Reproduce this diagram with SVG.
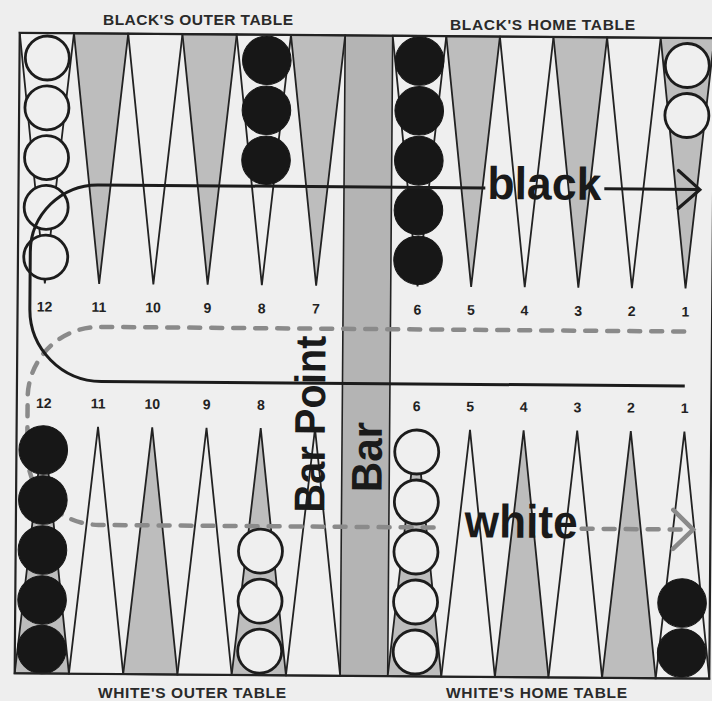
<svg xmlns="http://www.w3.org/2000/svg" width="712" height="701" viewBox="0 0 712 701">
<style>
.tw{fill:#efefef;stroke:#222;stroke-width:1.8;stroke-linejoin:miter}
.tg{fill:#bdbdbd;stroke:#222;stroke-width:1.8}
.cw{fill:#efefef;stroke:#1c1c1c;stroke-width:2.8}
.cb{fill:#171717;stroke:#171717;stroke-width:1}
.num{font-family:"Liberation Sans",Arial,sans-serif;font-weight:bold;font-size:14px;fill:#222;text-anchor:middle}
.big{font-family:"Liberation Sans",Arial,sans-serif;font-weight:bold;fill:#1a1a1a}
.cap{font-family:"Liberation Sans",Arial,sans-serif;font-weight:bold;font-size:15.5px;fill:#2a2a2a}
.solid{fill:none;stroke:#1c1c1c;stroke-width:3;stroke-linejoin:round}
.dash{fill:none;stroke:#8a8a8a;stroke-width:4.5;stroke-dasharray:11 11;stroke-linecap:round}
.ahb{fill:none;stroke:#1c1c1c;stroke-width:3.2;stroke-linecap:round;stroke-linejoin:miter}
.ahw{fill:none;stroke:#8a8a8a;stroke-width:4.5;stroke-linecap:round;stroke-linejoin:miter}
</style>
<rect x="0" y="0" width="712" height="701" fill="#eeeeee"/>
<g id="labels-outside">
<text class="cap" x="103" y="25" textLength="190" lengthAdjust="spacing">BLACK'S OUTER TABLE</text>
<text class="cap" x="450" y="29.5" textLength="185" lengthAdjust="spacing">BLACK'S HOME TABLE</text>
<text class="cap" x="98" y="697.5" textLength="188" lengthAdjust="spacing">WHITE'S OUTER TABLE</text>
<text class="cap" x="446" y="697.5" textLength="181" lengthAdjust="spacing">WHITE'S HOME TABLE</text>
</g>
<g id="board" transform="rotate(0.45 365 355)">
<rect x="17.2" y="35.5" width="694.6" height="640.5" fill="#efefef"/>
<g id="bar">
<rect x="342.7" y="35.5" width="47.5" height="640.5" fill="#b4b4b4" stroke="#222" stroke-width="1.6"/>
</g>
<g id="points-top">
<polygon id="pt-b12" class="tw" points="17.2,35.5 71.45,35.5 44.3,286"/>
<polygon id="pt-b11" class="tg" points="71.45,35.5 125.7,35.5 98.6,286"/>
<polygon id="pt-b10" class="tw" points="125.7,35.5 179.95,35.5 152.8,286"/>
<polygon id="pt-b9" class="tg" points="179.95,35.5 234.2,35.5 207.1,286"/>
<polygon id="pt-b8" class="tw" points="234.2,35.5 288.45,35.5 261.3,286"/>
<polygon id="pt-b7" class="tg" points="288.45,35.5 342.7,35.5 315.6,286"/>
<polygon id="pt-b6" class="tw" points="390.2,35.5 443.8,35.5 417,286"/>
<polygon id="pt-b5" class="tg" points="443.8,35.5 497.4,35.5 470.6,286"/>
<polygon id="pt-b4" class="tw" points="497.4,35.5 551,35.5 524.2,286"/>
<polygon id="pt-b3" class="tg" points="551,35.5 604.6,35.5 577.8,286"/>
<polygon id="pt-b2" class="tw" points="604.6,35.5 658.2,35.5 631.4,286"/>
<polygon id="pt-b1" class="tg" points="658.2,35.5 711.8,35.5 685,286"/>
</g>
<g id="points-bottom">
<polygon id="pt-w12" class="tg" points="17.2,676 71.45,676 44.3,429"/>
<polygon id="pt-w11" class="tw" points="71.45,676 125.7,676 98.6,429"/>
<polygon id="pt-w10" class="tg" points="125.7,676 179.95,676 152.8,429"/>
<polygon id="pt-w9" class="tw" points="179.95,676 234.2,676 207.1,429"/>
<polygon id="pt-w8" class="tg" points="234.2,676 288.45,676 261.3,429"/>
<polygon id="pt-w7" class="tw" points="288.45,676 342.7,676 315.6,429"/>
<polygon id="pt-w6" class="tg" points="390.2,676 443.8,676 417,429"/>
<polygon id="pt-w5" class="tw" points="443.8,676 497.4,676 470.6,429"/>
<polygon id="pt-w4" class="tg" points="497.4,676 551,676 524.2,429"/>
<polygon id="pt-w3" class="tw" points="551,676 604.6,676 577.8,429"/>
<polygon id="pt-w2" class="tg" points="604.6,676 658.2,676 631.4,429"/>
<polygon id="pt-w1" class="tw" points="658.2,676 711.8,676 685,429"/>
</g>
<g id="numbers-top">
<text class="num" x="44.3" y="314">12</text>
<text class="num" x="98.6" y="314">11</text>
<text class="num" x="152.8" y="314">10</text>
<text class="num" x="207.1" y="314">9</text>
<text class="num" x="261.3" y="314">8</text>
<text class="num" x="315.6" y="314">7</text>
<text class="num" x="417" y="314">6</text>
<text class="num" x="470.6" y="314">5</text>
<text class="num" x="524.2" y="314">4</text>
<text class="num" x="577.8" y="314">3</text>
<text class="num" x="631.4" y="314">2</text>
<text class="num" x="685" y="314">1</text>
</g>
<g id="numbers-bottom">
<text class="num" x="44.3" y="410.5">12</text>
<text class="num" x="98.6" y="410.5">11</text>
<text class="num" x="152.8" y="410.5">10</text>
<text class="num" x="207.1" y="410.5">9</text>
<text class="num" x="261.3" y="410.5">8</text>
<text class="num" x="417" y="410.5">6</text>
<text class="num" x="470.6" y="410.5">5</text>
<text class="num" x="524.2" y="410.5">4</text>
<text class="num" x="577.8" y="410.5">3</text>
<text class="num" x="631.4" y="410.5">2</text>
<text class="num" x="685" y="410.5">1</text>
</g>
<g id="connectors">
<g id="white-path">
<path class="dash" d="M684,329 L99.5,329 A71.5,71.5 0 0 0 28,400.5 L28,455 A72,72 0 0 0 100,527 L443,527"/>
<path class="dash" d="M583,527 L690,527"/>
<path class="ahw" d="M674.5,507.5 L694.5,527 L674.5,546.5"/>
</g>
</g>
<g id="checkers">
<g id="chk-b12">
<circle class="cw" cx="45" cy="60.5" r="22"/>
<circle class="cw" cx="45" cy="110.3" r="22"/>
<circle class="cw" cx="45" cy="160.1" r="22"/>
<circle class="cw" cx="45" cy="209.9" r="22"/>
<circle class="cw" cx="45" cy="259.7" r="22"/>
</g>
<g id="chk-b8">
<circle class="cb" cx="264.5" cy="61" r="24.3"/>
<circle class="cb" cx="264.5" cy="111" r="24.3"/>
<circle class="cb" cx="264.5" cy="161" r="24.3"/>
</g>
<g id="chk-b6">
<circle class="cb" cx="417.3" cy="60.6" r="24.3"/>
<circle class="cb" cx="417.3" cy="110.4" r="24.3"/>
<circle class="cb" cx="417.3" cy="160.2" r="24.3"/>
<circle class="cb" cx="417.3" cy="210" r="24.3"/>
<circle class="cb" cx="417.3" cy="259.8" r="24.3"/>
</g>
<g id="chk-b1">
<circle class="cw" cx="685" cy="63" r="22"/>
<circle class="cw" cx="685" cy="113" r="22"/>
</g>
<g id="chk-w12">
<circle class="cb" cx="44" cy="452.5" r="24.3"/>
<circle class="cb" cx="44" cy="502.5" r="24.3"/>
<circle class="cb" cx="44" cy="552.5" r="24.3"/>
<circle class="cb" cx="44" cy="602.5" r="24.3"/>
<circle class="cb" cx="44" cy="652" r="24.3"/>
</g>
<g id="chk-w8">
<circle class="cw" cx="262" cy="552" r="22"/>
<circle class="cw" cx="262" cy="602" r="22"/>
<circle class="cw" cx="262" cy="652" r="22"/>
</g>
<g id="chk-w6">
<circle class="cw" cx="417.5" cy="451.6" r="22"/>
<circle class="cw" cx="417.5" cy="501.6" r="22"/>
<circle class="cw" cx="417.5" cy="551.6" r="22"/>
<circle class="cw" cx="417.5" cy="601.6" r="22"/>
<circle class="cw" cx="417.5" cy="651.6" r="22"/>
</g>
<g id="chk-w1">
<circle class="cb" cx="684" cy="600.5" r="24.3"/>
<circle class="cb" cx="684" cy="650.5" r="24.3"/>
</g>
</g>
<g id="connectors-black">
<path class="solid" d="M484,187 L97,187 A67.5,67.5 0 0 0 29.5,254.5 L29.5,311.5 A72,72 0 0 0 101.5,383.5 L685,383.5"/>
<path class="solid" d="M603,187 L697,187"/>
<path class="ahb" d="M677,168 L698.5,187 L677,206"/>
</g>
<g id="path-labels">
<text class="big" x="486" y="198" font-size="46" textLength="114" lengthAdjust="spacingAndGlyphs">black</text>
<text class="big" x="466" y="536.5" font-size="47" textLength="113" lengthAdjust="spacingAndGlyphs">white</text>
<text class="big" transform="translate(325.5 513) rotate(-90)" font-size="43" textLength="177" lengthAdjust="spacingAndGlyphs">Bar Point</text>
<text class="big" transform="translate(382.5 492) rotate(-90)" font-size="43" textLength="70" lengthAdjust="spacingAndGlyphs">Bar</text>
</g>
<rect x="17.2" y="35.5" width="694.6" height="640.5" fill="none" stroke="#222" stroke-width="2.2"/>
</g>
</svg>
